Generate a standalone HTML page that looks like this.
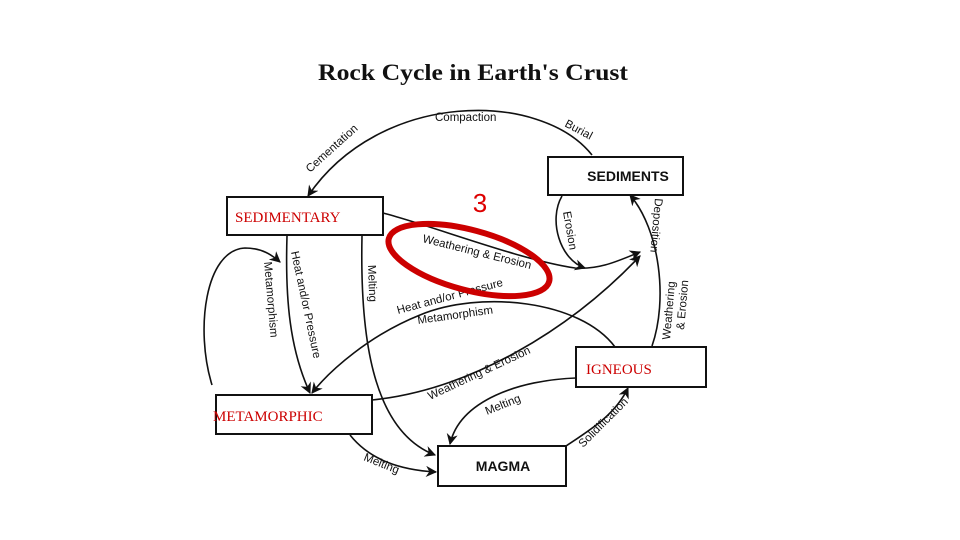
<!DOCTYPE html>
<html><head><meta charset="utf-8"><style>
html,body{margin:0;padding:0;background:#fff;width:960px;height:540px;overflow:hidden}
svg{display:block}
.l{font-family:"Liberation Sans",sans-serif;font-size:11.5px;fill:#111}
.b{fill:#fff;stroke:#111;stroke-width:2}
.c{fill:none;stroke:#111;stroke-width:1.6}
</style></head><body>
<svg width="960" height="540" viewBox="0 0 960 540">
<defs><marker id="a" viewBox="0 0 10 10" refX="9" refY="5" markerWidth="7" markerHeight="7" orient="auto"><path d="M0,0 L10,5 L0,10 L3,5z" fill="#111"/></marker></defs>
<text x="318" y="80" textLength="310" lengthAdjust="spacingAndGlyphs" font-family="Liberation Serif,serif" font-weight="bold" font-size="23" fill="#111">Rock Cycle in Earth's Crust</text>
<!-- connectors -->
<path class="c" d="M592,155 C540,90 380,90 308,196" marker-end="url(#a)"/>
<path class="c" d="M383,213 C430,225 520,260 575,268 C600,270 620,260 640,252" marker-end="url(#a)"/>
<path class="c" d="M562,196 C548,220 560,260 585,268" marker-end="url(#a)"/>
<path class="c" d="M652,346 C668,300 660,230 630,195" marker-end="url(#a)"/>
<path class="c" d="M372,400 C470,390 570,330 640,256" marker-end="url(#a)"/>
<path class="c" d="M287,236 C285,300 290,350 310,393" marker-end="url(#a)"/>
<path class="c" d="M212,385 C195,330 205,250 245,248 C262,248 272,255 280,262" marker-end="url(#a)"/>
<path class="c" d="M362,236 C360,330 370,430 435,455" marker-end="url(#a)"/>
<path class="c" d="M615,347 C580,300 480,290 420,315 C370,335 330,370 312,393" marker-end="url(#a)"/>
<path class="c" d="M576,378 C520,380 460,400 450,444" marker-end="url(#a)"/>
<path class="c" d="M566,446 C590,430 615,415 628,388" marker-end="url(#a)"/>
<path class="c" d="M350,435 C370,460 400,470 436,472" marker-end="url(#a)"/>
<!-- boxes -->
<rect class="b" x="548" y="157" width="135" height="38"/>
<text x="628" y="181" text-anchor="middle" font-family="Liberation Sans,sans-serif" font-weight="bold" font-size="14" fill="#111">SEDIMENTS</text>
<rect class="b" x="227" y="197" width="156" height="38"/>
<text x="235" y="222" font-family="Liberation Serif,serif" font-size="15" fill="#c00">SEDIMENTARY</text>
<rect class="b" x="216" y="395" width="156" height="39"/>
<text x="213" y="421" font-family="Liberation Serif,serif" font-size="15" fill="#c00">METAMORPHIC</text>
<rect class="b" x="576" y="347" width="130" height="40"/>
<text x="586" y="374" font-family="Liberation Serif,serif" font-size="15" fill="#c00">IGNEOUS</text>
<rect class="b" x="438" y="446" width="128" height="40"/>
<text x="503" y="471" text-anchor="middle" font-family="Liberation Sans,sans-serif" font-weight="bold" font-size="14" fill="#111">MAGMA</text>
<!-- labels -->
<text class="l" x="435" y="121">Compaction</text>
<text class="l" transform="translate(310,173) rotate(-42)">Cementation</text>
<text class="l" transform="translate(564,126) rotate(28)">Burial</text>
<text class="l" transform="translate(422,242) rotate(14)">Weathering &amp; Erosion</text>
<text class="l" transform="translate(563,212) rotate(80)">Erosion</text>
<text class="l" transform="translate(655,198) rotate(95)">Deposition</text>
<text class="l" transform="translate(670,340) rotate(-85)">Weathering</text>
<text class="l" transform="translate(684,330) rotate(-85)">&amp; Erosion</text>
<text class="l" transform="translate(291,252) rotate(78)">Heat and/or Pressure</text>
<text class="l" transform="translate(264,262) rotate(85)">Metamorphism</text>
<text class="l" transform="translate(368,265) rotate(88)">Melting</text>
<text class="l" transform="translate(398,314) rotate(-15)">Heat and/or Pressure</text>
<text class="l" transform="translate(418,324) rotate(-8)">Metamorphism</text>
<text class="l" transform="translate(430,400) rotate(-25)">Weathering &amp; Erosion</text>
<text class="l" transform="translate(487,415) rotate(-22)">Melting</text>
<text class="l" transform="translate(583,448) rotate(-45)">Solidification</text>
<text class="l" transform="translate(363,460) rotate(22)">Melting</text>
<!-- annotation -->
<text x="480" y="212" text-anchor="middle" font-family="Liberation Sans,sans-serif" font-size="26" fill="#d00">3</text>
<ellipse cx="469" cy="260" rx="83" ry="30" transform="rotate(15 469 260)" fill="none" stroke="#c00" stroke-width="6"/>
</svg>
</body></html>
